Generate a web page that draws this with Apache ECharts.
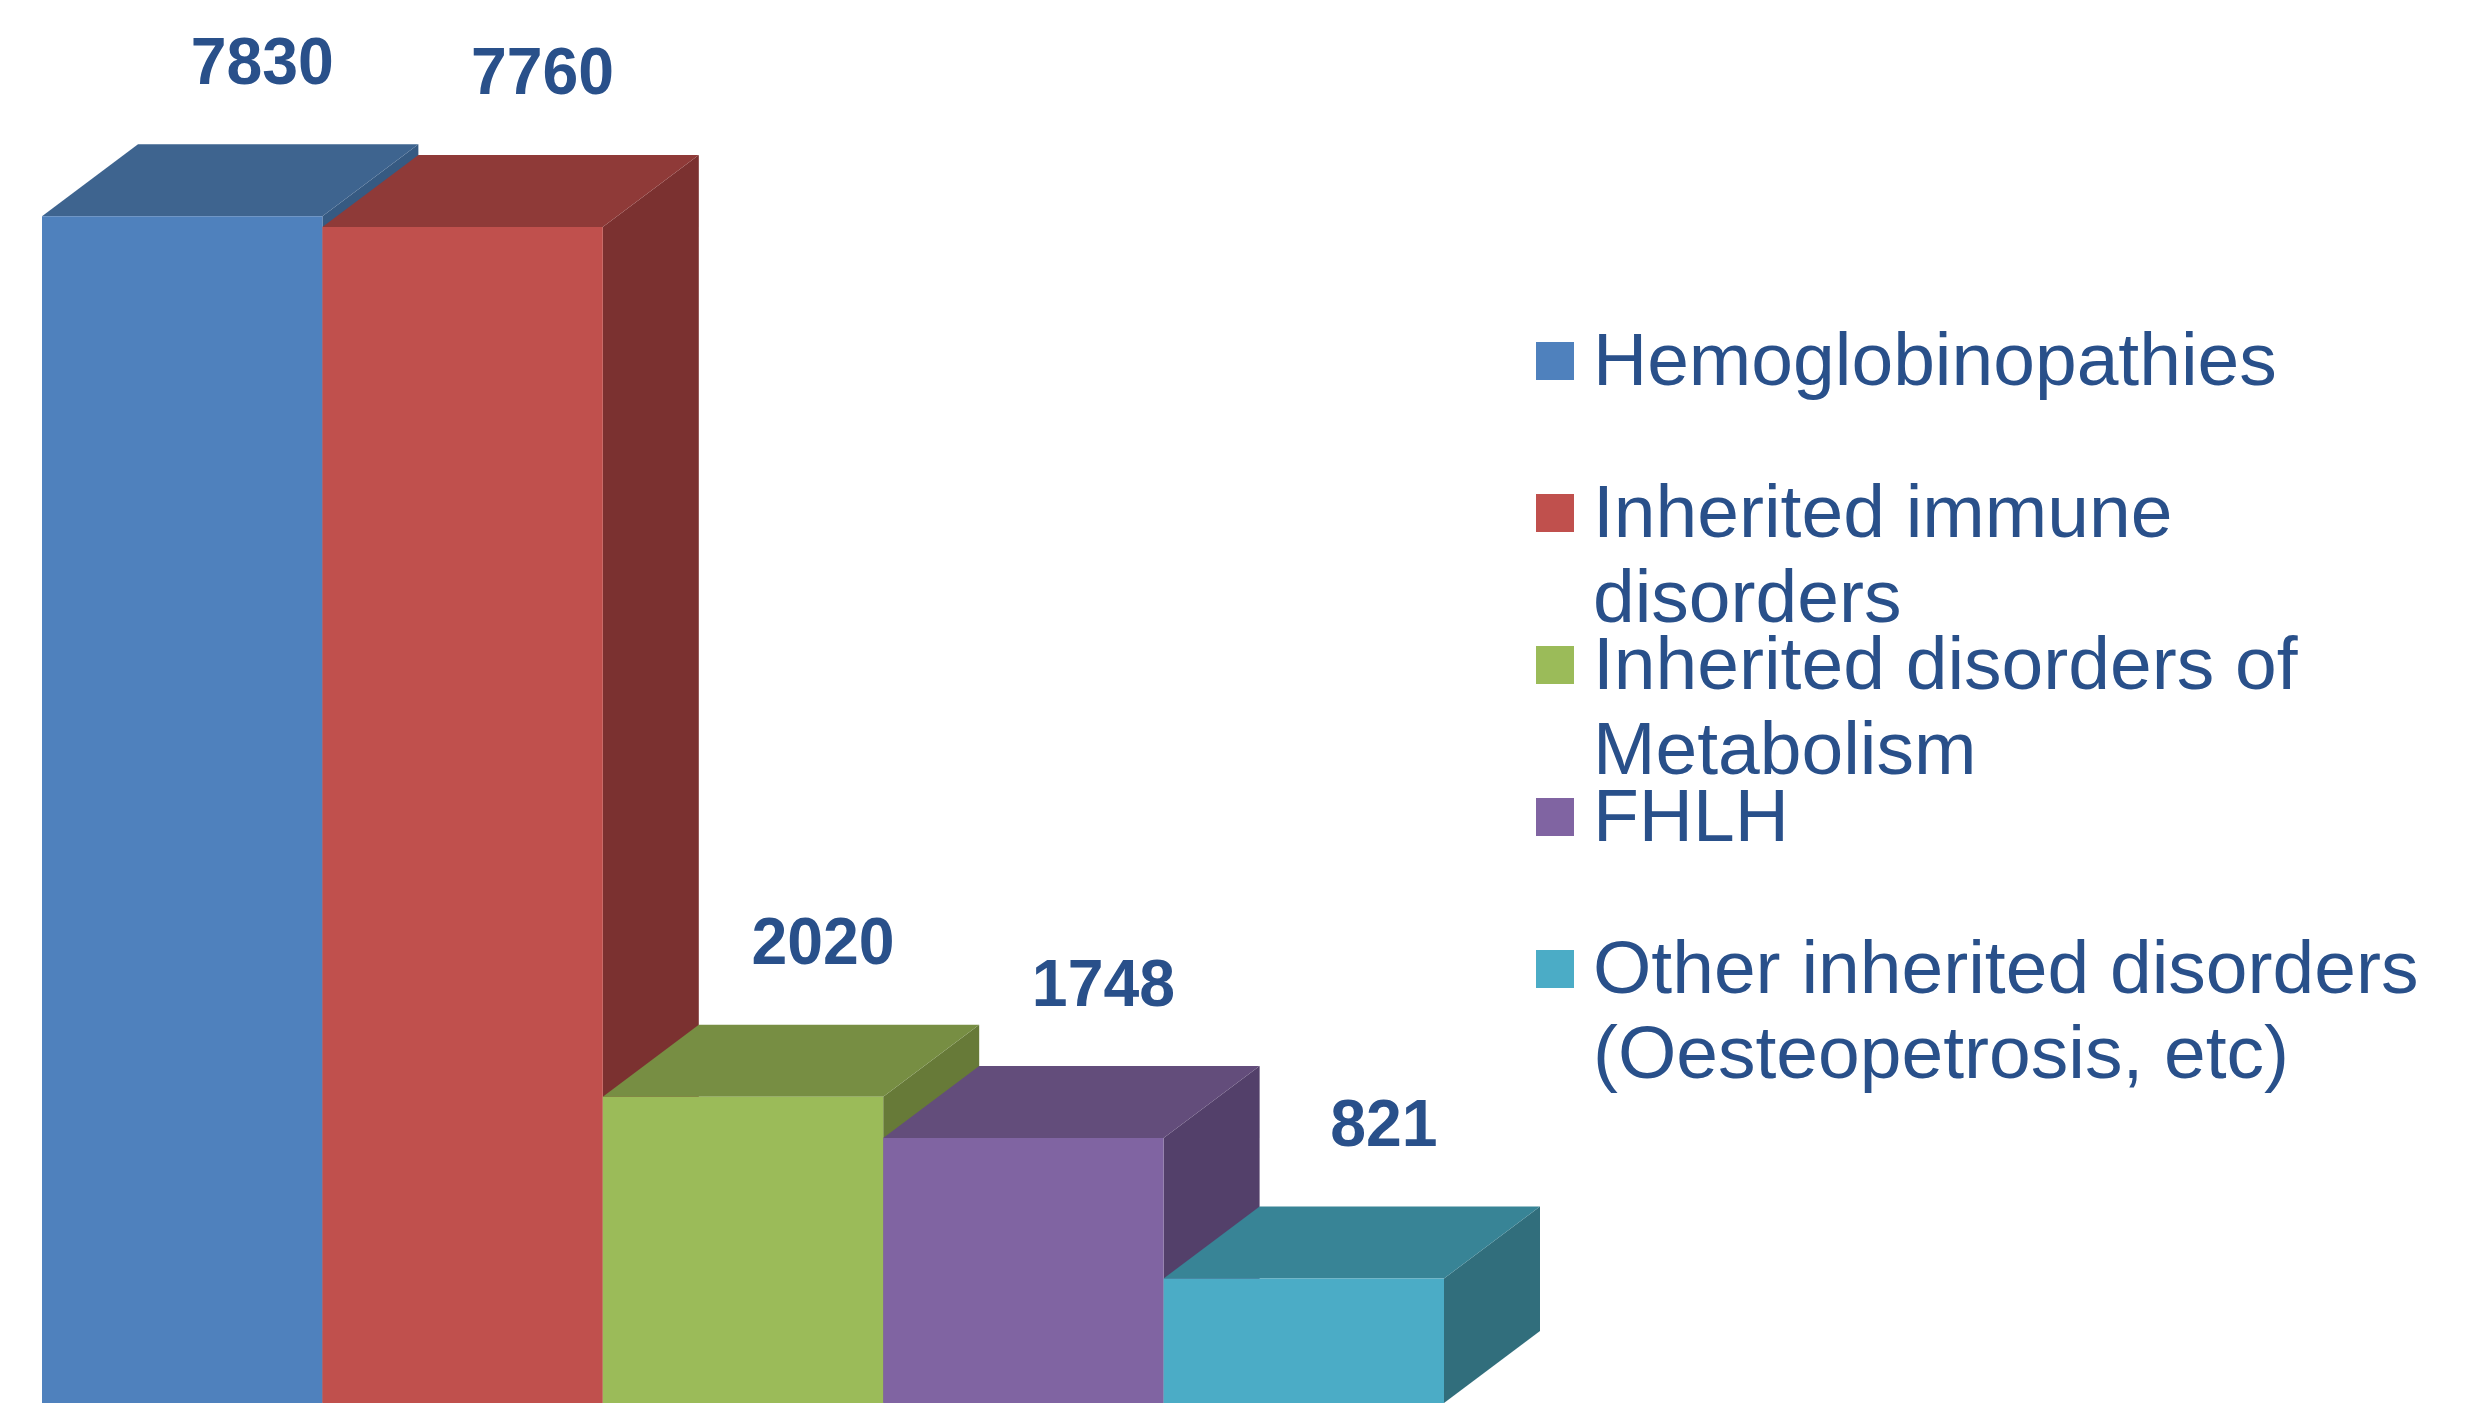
<!DOCTYPE html>
<html><head><meta charset="utf-8">
<style>html,body{margin:0;padding:0;background:#fff}#chart{width:2481px;height:1403px}</style>
<script src="https://cdn.jsdelivr.net/npm/echarts@6/dist/echarts.min.js"></script>
</head><body><div id="chart"></div>
<script>
// ---- data ----
const categories = [
  'Hemoglobinopathies',
  'Inherited immune disorders',
  'Inherited disorders of Metabolism',
  'FHLH',
  'Other inherited disorders (Oesteopetrosis, etc)'
];
const legendLabels = [
  'Hemoglobinopathies',
  'Inherited immune\ndisorders',
  'Inherited disorders of\nMetabolism',
  'FHLH',
  'Other inherited disorders\n(Oesteopetrosis, etc)'
];
const values = [7830, 7760, 2020, 1748, 821];

// ---- style ----
const frontColors = ['#4F81BD', '#C0504D', '#9BBB59', '#8064A2', '#4BACC6'];
const topColors   = ['#3E648F', '#8F3A38', '#778E43', '#634D7B', '#388496'];
const sideColors  = ['#365A82', '#7B3130', '#677A38', '#53406A', '#316E7C'];
const TEXT_COLOR = '#29508A';
const FONT = 'Liberation Sans, Arial, sans-serif';
const DX = 96, DY = 72;
const LEGEND = { left: 1536, firstCenter: 361, step: 152, box: 38, textX: 1593, textDy: 3, line: 85, fontSize: 75 };

function renderItem(params, api) {
  const s = params.seriesIndex;
  const idx = api.value(0), val = api.value(1);
  const top = api.coord([idx, val]);
  const base = api.coord([idx, 0]);
  const bw = api.size([1, 0])[0];
  const x0 = top[0] - bw / 2, x1 = top[0] + bw / 2, yT = top[1], yB = base[1];
  return {
    type: 'group',
    children: [
      { type: 'polygon', shape: { points: [[x1, yT], [x1 + DX, yT - DY], [x1 + DX, yB - DY], [x1, yB]] },
        style: { fill: sideColors[s] } },
      { type: 'polygon', shape: { points: [[x0, yT], [x1, yT], [x1 + DX, yT - DY], [x0 + DX, yT - DY]] },
        style: { fill: topColors[s] } },
      { type: 'rect', shape: { x: x0, y: yT, width: bw, height: yB - yT },
        style: { fill: frontColors[s] } },
      { type: 'text', x: top[0] + 80, y: yT - DY - 79, scaleX: 0.96,
        style: { text: String(val), fill: TEXT_COLOR, fontSize: 67, fontWeight: 'bold',
                 fontFamily: FONT, align: 'center', verticalAlign: 'middle' } }
    ]
  };
}

// legend drawn as graphic elements (marker aligned with the first text line)
const legendGraphics = [];
categories.forEach((name, i) => {
  const cy = LEGEND.firstCenter + i * LEGEND.step;
  legendGraphics.push({
    type: 'rect', x: LEGEND.left, y: cy - LEGEND.box / 2,
    shape: { x: 0, y: 0, width: LEGEND.box, height: LEGEND.box },
    style: { fill: frontColors[i] }
  });
  legendGraphics.push({
    type: 'text', x: LEGEND.textX, y: cy - LEGEND.line / 2 + LEGEND.textDy,
    style: { text: legendLabels[i], fill: TEXT_COLOR, fontSize: LEGEND.fontSize, fontFamily: FONT,
             lineHeight: LEGEND.line, align: 'left', verticalAlign: 'top' }
  });
});

const chart = echarts.init(document.getElementById('chart'), null, { renderer: 'canvas' });
chart.setOption({
  animation: false,
  backgroundColor: '#ffffff',
  grid: { left: 42, width: 1402, top: 39, bottom: -7 },
  xAxis: { type: 'category', data: categories, show: false },
  yAxis: { type: 'value', min: 0, max: 9000, show: false, splitLine: { show: false } },
  graphic: legendGraphics,
  series: categories.map((name, i) => ({
    type: 'custom',
    name: name,
    clip: false,
    itemStyle: { color: frontColors[i] },
    renderItem: renderItem,
    encode: { x: 0, y: 1 },
    data: [[name, values[i]]]
  }))
});
</script></body></html>
